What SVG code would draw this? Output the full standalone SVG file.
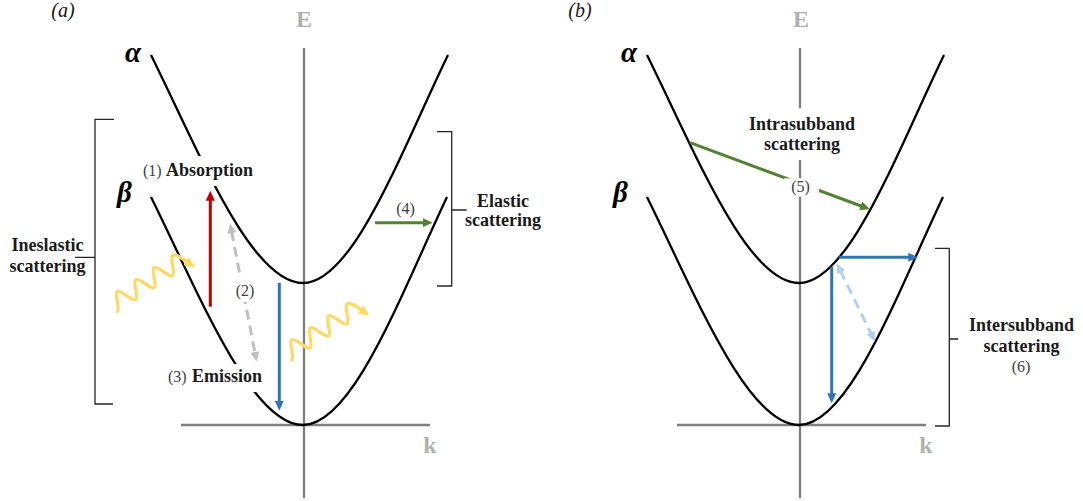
<svg xmlns="http://www.w3.org/2000/svg" width="1083" height="501" viewBox="0 0 1083 501">
<style>
.curve{fill:none;stroke:#000;stroke-width:2.3}
.axis{fill:none;stroke:#7f7f7f;stroke-width:2.3}
.brk{fill:none;stroke:#262626;stroke-width:1.3}
.axlbl{font-family:"Liberation Serif","Times New Roman",serif;font-weight:bold;font-size:24px;fill:#b0b0b0;text-anchor:middle}
.panel{font-family:"Liberation Serif","Times New Roman",serif;font-style:italic;font-size:20px;fill:#1a1a1a;text-anchor:middle}
.greek{font-family:"Liberation Serif","Times New Roman",serif;font-style:italic;font-weight:bold;font-size:29px;fill:#000}
.lbl{font-family:"Liberation Serif","Times New Roman",serif;font-weight:bold;font-size:18px;fill:#1a1a1a}
.num{font-family:"Liberation Serif","Times New Roman",serif;font-weight:normal;font-size:16px;fill:#404040}
.mid{text-anchor:middle}
.bg{fill:#fff}
.arr{fill:none;stroke-width:3}
.wave{fill:none;stroke:#ffd966;stroke-width:3.3;stroke-linecap:round}
</style>
<defs>
<marker id="ah-red" markerUnits="userSpaceOnUse" markerWidth="10" markerHeight="9" refX="2" refY="4.5" orient="auto-start-reverse"><path d="M0,0 L10,4.5 L0,9 z" fill="#c00000"/></marker>
<marker id="ah-blue" markerUnits="userSpaceOnUse" markerWidth="10" markerHeight="9" refX="2" refY="4.5" orient="auto-start-reverse"><path d="M0,0 L10,4.5 L0,9 z" fill="#2e75b6"/></marker>
<marker id="ah-green" markerUnits="userSpaceOnUse" markerWidth="10" markerHeight="9" refX="2" refY="4.5" orient="auto-start-reverse"><path d="M0,0 L10,4.5 L0,9 z" fill="#548235"/></marker>
<marker id="ah-gray" markerUnits="userSpaceOnUse" markerWidth="10" markerHeight="9" refX="2" refY="4.5" orient="auto-start-reverse"><path d="M0,0 L10,4.5 L0,9 z" fill="#bfbfbf"/></marker>
<marker id="ah-lblue" markerUnits="userSpaceOnUse" markerWidth="10" markerHeight="9" refX="2" refY="4.5" orient="auto-start-reverse"><path d="M0,0 L10,4.5 L0,9 z" fill="#b4cfec"/></marker>
<marker id="ah-yel" markerUnits="userSpaceOnUse" markerWidth="11" markerHeight="10" refX="2" refY="5" orient="auto"><path d="M0,0 L11,5 L0,10 z" fill="#ffd966"/></marker>
<path id="wavepath" d="M0,0 C4,0 7,-17 11,-17 S18,0 22,0 S29,-17 33,-17 S40,0 44,0 S51,-17 55,-17 S62,0 66,0 S73,-17 77,-17 S83.5,-9 86,-3"/>
</defs>
<rect width="1083" height="501" fill="#fff"/>

<!-- panel labels -->
<text class="panel" x="63" y="17">(a)</text>
<text class="panel" x="580" y="17">(b)</text>

<!-- axes -->
<g id="axes-a">
<line class="axis" x1="304" y1="48" x2="304" y2="498"/>
<line class="axis" x1="181" y1="425" x2="430" y2="425"/>
<text class="axlbl" x="304" y="27">E</text>
<text class="axlbl" x="430" y="453">k</text>
</g>
<g id="axes-b">
<line class="axis" x1="800" y1="48" x2="800" y2="498"/>
<line class="axis" x1="677" y1="425" x2="926" y2="425"/>
<text class="axlbl" x="801" y="27">E</text>
<text class="axlbl" x="926" y="453">k</text>
</g>

<!-- bands -->
<g id="band-alpha-a">
<path class="curve" d="M151,55 C199,152 251,283 303,283 C353,283 401,152 448,55"/>
<text class="greek" x="125" y="62">α</text>
</g>
<g id="band-beta-a">
<path class="curve" d="M151,197 C199,294 251,425 303,425 C353,425 401,294 447,197"/>
<text class="greek" x="117" y="202">β</text>
</g>
<g id="band-alpha-b">
<path class="curve" d="M647,55 C695,152 747,283 799,283 C849,283 897,152 944,55"/>
<text class="greek" x="621" y="62">α</text>
</g>
<g id="band-beta-b">
<path class="curve" d="M647,197 C695,294 747,425 799,425 C849,425 897,294 943,197"/>
<text class="greek" x="613" y="202">β</text>
</g>

<!-- brackets -->
<g id="bracket-inelastic">
<path class="brk" d="M114,119.3 H95 V404 H113 M95,257.3 H75"/>
<text class="lbl mid" x="47.5" y="251">Ineslastic</text>
<text class="lbl mid" x="47.5" y="272">scattering</text>
</g>
<g id="bracket-elastic">
<path class="brk" d="M437,131.7 H451.7 V286 H437 M451.7,210 H466.7"/>
<text class="lbl mid" x="503" y="207">Elastic</text>
<text class="lbl mid" x="503" y="226">scattering</text>
</g>
<g id="bracket-intersubband">
<path class="brk" d="M935,248.3 H949.3 V426 H935 M949.3,339 H958.3"/>
<text class="lbl mid" x="1021.5" y="331">Intersubband</text>
<text class="lbl mid" x="1021.5" y="352">scattering</text>
<text class="num mid" x="1021" y="372">(6)</text>
</g>

<!-- connectors -->
<g id="connectors">
<line class="arr" x1="210.3" y1="306.7" x2="210.3" y2="198.7" stroke="#c00000" marker-end="url(#ah-red)"/>
<line class="arr" x1="279.3" y1="282.7" x2="279.3" y2="402.7" stroke="#2e75b6" marker-end="url(#ah-blue)"/>
<line class="arr" x1="375" y1="222.7" x2="424.7" y2="222.7" stroke="#548235" marker-end="url(#ah-green)"/>
<line class="arr" x1="231.5" y1="231.2" x2="255.2" y2="353.9" stroke="#bfbfbf" stroke-dasharray="10,6" marker-start="url(#ah-gray)" marker-end="url(#ah-gray)"/>
<line class="arr" x1="690" y1="142.7" x2="862.5" y2="206.5" stroke="#548235" marker-end="url(#ah-green)"/>
<line class="arr" x1="839.3" y1="257.3" x2="910.3" y2="257.3" stroke="#2e75b6" marker-end="url(#ah-blue)"/>
<line class="arr" x1="831.7" y1="266.7" x2="831.7" y2="395.3" stroke="#2e75b6" marker-end="url(#ah-blue)"/>
<line class="arr" x1="840.2" y1="270.5" x2="871.5" y2="334.5" stroke="#b4cfec" stroke-dasharray="10,6" marker-start="url(#ah-lblue)" marker-end="url(#ah-lblue)"/>
<use href="#wavepath" class="wave" transform="translate(117.3,311.7) rotate(-33)" marker-end="url(#ah-yel)"/>
<use href="#wavepath" class="wave" transform="translate(291.7,360) rotate(-33)" marker-end="url(#ah-yel)"/>
</g>

<!-- labels with white backgrounds -->
<g id="label-absorption">
<rect class="bg" x="140" y="156" width="118" height="30"/>
<text x="143" y="176"><tspan class="num">(1)</tspan><tspan class="lbl" x="166">Absorption</tspan></text>
</g>
<g id="label-2">
<rect class="bg" x="234" y="277" width="22" height="25"/>
<text class="num mid" x="245" y="296">(2)</text>
</g>
<g id="label-emission">
<rect class="bg" x="165" y="364" width="100" height="28"/>
<text x="168" y="382"><tspan class="num">(3)</tspan><tspan class="lbl" x="192">Emission</tspan></text>
</g>
<g id="label-4">
<text class="num mid" x="405.5" y="214">(4)</text>
</g>
<g id="label-intrasubband">
<rect class="bg" x="745" y="108.3" width="114" height="51.7"/>
<text class="lbl mid" x="802" y="130">Intrasubband</text>
<text class="lbl mid" x="802" y="150">scattering</text>
</g>
<g id="label-5">
<rect class="bg" x="784" y="178.3" width="35" height="18.4"/>
<text class="num mid" x="800.5" y="192">(5)</text>
</g>
</svg>
